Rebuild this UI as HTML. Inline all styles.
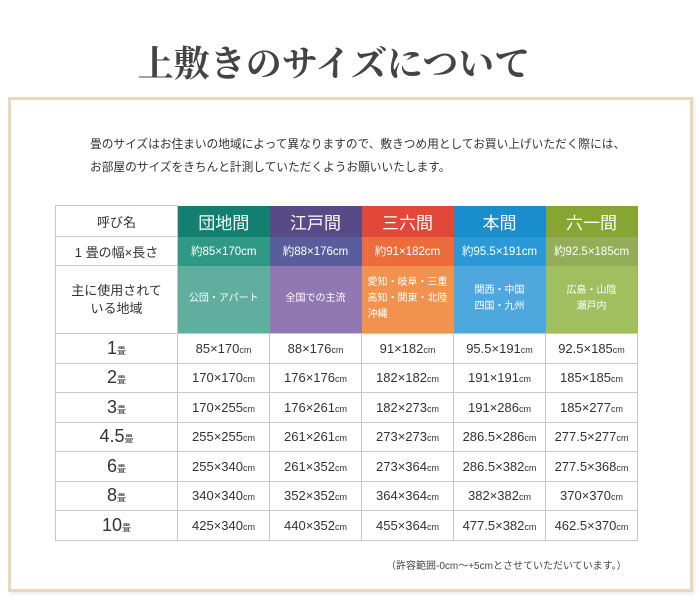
<!DOCTYPE html>
<html><head><meta charset="utf-8"><style>
body{margin:0;width:700px;height:604px;background:#fff;position:relative;overflow:hidden;font-family:"Liberation Sans","Noto Sans CJK JP",sans-serif;color:#333}
.title{position:absolute;left:0;width:668px;top:36px;text-align:center;font-family:"Liberation Serif","Noto Serif CJK SC",serif;font-size:36px;font-weight:bold;color:#444;letter-spacing:0px}
.frame{position:absolute;left:8px;top:97px;width:679px;height:489px;border:3px solid #e9d7be;box-shadow:2px 2px 3px #eee}
.txt{position:absolute;left:90px;top:133px;font-size:11.7px;line-height:23px;color:#333}
table{position:absolute;left:55px;top:205px;border-collapse:collapse;table-layout:fixed}
td{border:1px solid #c8c8c8;text-align:center;padding:0;font-size:13px;color:#333}
.h td.c{font-size:17px;color:#fff;border:none}
.s td.c{font-size:11.5px;color:#fff;border:none}
.r td.c{font-size:10px;color:#fff;border:none;line-height:16px}
.d td{height:28.5px;font-size:13px}
.d td:first-child{font-size:18px}
small{font-size:9px}
.note{position:absolute;left:386px;top:557px;font-size:10px;color:#444}
</style></head><body>
<div class="title">上敷きのサイズについて</div>
<div class="frame"></div>
<div class="txt">畳のサイズはお住まいの地域によって異なりますので、敷きつめ用としてお買い上げいただく際には、<br>お部屋のサイズをきちんと計測していただくようお願いいたします。</div>
<table>
<colgroup><col style="width:122px"><col style="width:92px"><col style="width:92px"><col style="width:92px"><col style="width:92px"><col style="width:92px"></colgroup>
<tr class="h" style="height:31px"><td style="font-size:13px">呼び名</td><td class="c" style="background:#127f70">団地間</td><td class="c" style="background:#574a86">江戸間</td><td class="c" style="background:#e2483a">三六間</td><td class="c" style="background:#1a8dcc">本間</td><td class="c" style="background:#86a532">六一間</td></tr>
<tr class="s" style="height:29px"><td style="font-size:13px">1 畳の幅×長さ</td><td class="c" style="background:#2f9986">約85×170cm</td><td class="c" style="background:#5a5d9c">約88×176cm</td><td class="c" style="background:#ec6c3c">約91×182cm</td><td class="c" style="background:#2b99d6">約95.5×191cm</td><td class="c" style="background:#93ad58">約92.5×185cm</td></tr>
<tr class="r" style="height:68px"><td style="font-size:13px;line-height:18px">主に使用されて<br>いる地域</td><td class="c" style="background:#5fae9e">公団・アパート</td><td class="c" style="background:#9278b2">全国での主流</td><td class="c" style="background:#f1924e;text-align:left;padding-left:6px">愛知・岐阜・三重<br>高知・関東・北陸<br>沖縄</td><td class="c" style="background:#4ea8de">関西・中国<br>四国・九州</td><td class="c" style="background:#a0bf5f">広島・山陰<br>瀬戸内</td></tr>
<tr class="d"><td>1<small>畳</small></td><td>85×170<small>cm</small></td><td>88×176<small>cm</small></td><td>91×182<small>cm</small></td><td>95.5×191<small>cm</small></td><td>92.5×185<small>cm</small></td></tr>
<tr class="d"><td>2<small>畳</small></td><td>170×170<small>cm</small></td><td>176×176<small>cm</small></td><td>182×182<small>cm</small></td><td>191×191<small>cm</small></td><td>185×185<small>cm</small></td></tr>
<tr class="d"><td>3<small>畳</small></td><td>170×255<small>cm</small></td><td>176×261<small>cm</small></td><td>182×273<small>cm</small></td><td>191×286<small>cm</small></td><td>185×277<small>cm</small></td></tr>
<tr class="d"><td>4.5<small>畳</small></td><td>255×255<small>cm</small></td><td>261×261<small>cm</small></td><td>273×273<small>cm</small></td><td>286.5×286<small>cm</small></td><td>277.5×277<small>cm</small></td></tr>
<tr class="d"><td>6<small>畳</small></td><td>255×340<small>cm</small></td><td>261×352<small>cm</small></td><td>273×364<small>cm</small></td><td>286.5×382<small>cm</small></td><td>277.5×368<small>cm</small></td></tr>
<tr class="d"><td>8<small>畳</small></td><td>340×340<small>cm</small></td><td>352×352<small>cm</small></td><td>364×364<small>cm</small></td><td>382×382<small>cm</small></td><td>370×370<small>cm</small></td></tr>
<tr class="d"><td>10<small>畳</small></td><td>425×340<small>cm</small></td><td>440×352<small>cm</small></td><td>455×364<small>cm</small></td><td>477.5×382<small>cm</small></td><td>462.5×370<small>cm</small></td></tr>
</table>
<div class="note">（許容範囲-0cm～+5cmとさせていただいています。）</div>
</body></html>
